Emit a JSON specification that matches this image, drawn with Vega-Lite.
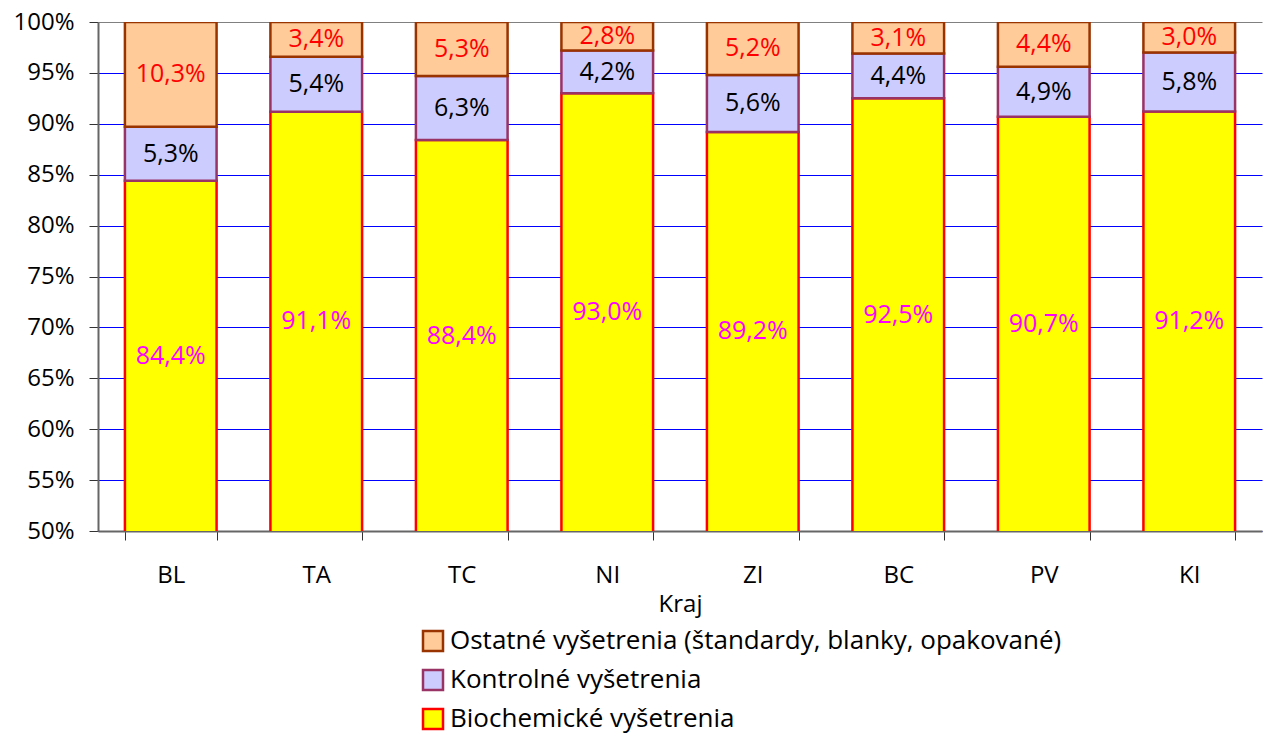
{
  "$schema": "https://vega.github.io/schema/vega-lite/v6.json",
  "width": 1164,
  "height": 509,
  "autosize": {"type": "none"},
  "padding": {"left": 98, "top": 22, "right": 2, "bottom": 205},
  "config": {
    "font": "Open Sans",
    "view": {"stroke": null},
    "locale": {"number": {"decimal": ",", "thousands": " ", "grouping": [3], "currency": ["", " €"]}},
    "axis": {"labelColor": "#000000", "titleColor": "#000000", "labelFontSize": 24, "titleFontSize": 24, "titleFontWeight": "normal"},
    "legend": {"labelColor": "#000000"}
  },
  "data": {"values": [
    {"kraj": "BL", "serie": "Biochemické vyšetrenia", "v": 0.844},
    {"kraj": "BL", "serie": "Kontrolné vyšetrenia", "v": 0.053},
    {"kraj": "BL", "serie": "Ostatné vyšetrenia (štandardy, blanky, opakované)", "v": 0.103},
    {"kraj": "TA", "serie": "Biochemické vyšetrenia", "v": 0.911},
    {"kraj": "TA", "serie": "Kontrolné vyšetrenia", "v": 0.054},
    {"kraj": "TA", "serie": "Ostatné vyšetrenia (štandardy, blanky, opakované)", "v": 0.034},
    {"kraj": "TC", "serie": "Biochemické vyšetrenia", "v": 0.884},
    {"kraj": "TC", "serie": "Kontrolné vyšetrenia", "v": 0.063},
    {"kraj": "TC", "serie": "Ostatné vyšetrenia (štandardy, blanky, opakované)", "v": 0.053},
    {"kraj": "NI", "serie": "Biochemické vyšetrenia", "v": 0.930},
    {"kraj": "NI", "serie": "Kontrolné vyšetrenia", "v": 0.042},
    {"kraj": "NI", "serie": "Ostatné vyšetrenia (štandardy, blanky, opakované)", "v": 0.028},
    {"kraj": "ZI", "serie": "Biochemické vyšetrenia", "v": 0.892},
    {"kraj": "ZI", "serie": "Kontrolné vyšetrenia", "v": 0.056},
    {"kraj": "ZI", "serie": "Ostatné vyšetrenia (štandardy, blanky, opakované)", "v": 0.052},
    {"kraj": "BC", "serie": "Biochemické vyšetrenia", "v": 0.925},
    {"kraj": "BC", "serie": "Kontrolné vyšetrenia", "v": 0.044},
    {"kraj": "BC", "serie": "Ostatné vyšetrenia (štandardy, blanky, opakované)", "v": 0.031},
    {"kraj": "PV", "serie": "Biochemické vyšetrenia", "v": 0.907},
    {"kraj": "PV", "serie": "Kontrolné vyšetrenia", "v": 0.049},
    {"kraj": "PV", "serie": "Ostatné vyšetrenia (štandardy, blanky, opakované)", "v": 0.044},
    {"kraj": "KI", "serie": "Biochemické vyšetrenia", "v": 0.912},
    {"kraj": "KI", "serie": "Kontrolné vyšetrenia", "v": 0.058},
    {"kraj": "KI", "serie": "Ostatné vyšetrenia (štandardy, blanky, opakované)", "v": 0.030}
  ]},
  "transform": [
    {"stack": "v", "groupby": ["kraj"], "sort": [{"field": "serie", "order": "ascending"}], "offset": "normalize", "as": ["y0", "y1"]},
    {"calculate": "(max(datum.y0, 0.5) + datum.y1) / 2", "as": "ymid"}
  ],
  "encoding": {
    "x": {
      "field": "kraj", "type": "nominal", "sort": null,
      "scale": {"paddingInner": 0.37, "paddingOuter": 0.185},
      "axis": {"title": "Kraj", "labelAngle": 0, "tickBand": "extent", "tickSize": 9, "tickColor": "#333333", "domainColor": "#666666", "domainWidth": 2, "labelPadding": 23, "titlePadding": 5}
    }
  },
  "layer": [
    {
      "mark": {"type": "bar", "clip": true, "strokeWidth": 2.5},
      "encoding": {
        "y": {
          "field": "y0", "type": "quantitative", "title": null,
          "scale": {"domain": [0.5, 1], "nice": false, "zero": false},
          "axis": {
            "format": ".0%", "values": [0.5, 0.55, 0.6, 0.65, 0.7, 0.75, 0.8, 0.85, 0.9, 0.95, 1.0],
            "tickSize": 9, "tickColor": "#333333", "domainColor": "#666666", "domainWidth": 2, "labelPadding": 15,
            "gridColor": {"condition": {"test": "datum.value >= 0.999", "value": "#808080"}, "value": "#0000FF"},
            "gridOpacity": 1, "gridWidth": 1
          }
        },
        "y2": {"field": "y1"},
        "fill": {
          "field": "serie", "type": "nominal",
          "scale": {"domain": ["Ostatné vyšetrenia (štandardy, blanky, opakované)", "Kontrolné vyšetrenia", "Biochemické vyšetrenia"], "range": ["#FFCC99", "#CCCCFF", "#FFFF00"]},
          "legend": {"title": null, "orient": "none", "legendX": 322, "legendY": 606, "direction": "vertical", "symbolType": "square", "symbolSize": 400, "symbolStrokeWidth": 2.5, "labelFontSize": 26, "rowPadding": 9, "labelLimit": 900, "labelOffset": 4}
        },
        "stroke": {
          "field": "serie", "type": "nominal",
          "scale": {"domain": ["Ostatné vyšetrenia (štandardy, blanky, opakované)", "Kontrolné vyšetrenia", "Biochemické vyšetrenia"], "range": ["#993300", "#993366", "#FF0000"]},
          "legend": {"title": null, "orient": "none", "legendX": 322, "legendY": 606, "direction": "vertical", "symbolType": "square", "symbolSize": 400, "symbolStrokeWidth": 2.5, "labelFontSize": 26, "rowPadding": 9, "labelLimit": 900, "labelOffset": 4}
        }
      }
    },
    {
      "mark": {"type": "text", "fontSize": 25, "baseline": "middle", "align": "center"},
      "encoding": {
        "y": {"field": "ymid", "type": "quantitative", "title": null},
        "text": {"field": "v", "type": "quantitative", "format": ".1%"},
        "color": {
          "condition": [
            {"test": "datum.serie === 'Biochemické vyšetrenia'", "value": "#FF00FF"},
            {"test": "datum.serie === 'Ostatné vyšetrenia (štandardy, blanky, opakované)'", "value": "#FF0000"}
          ],
          "value": "#000000"
        }
      }
    }
  ]
}
